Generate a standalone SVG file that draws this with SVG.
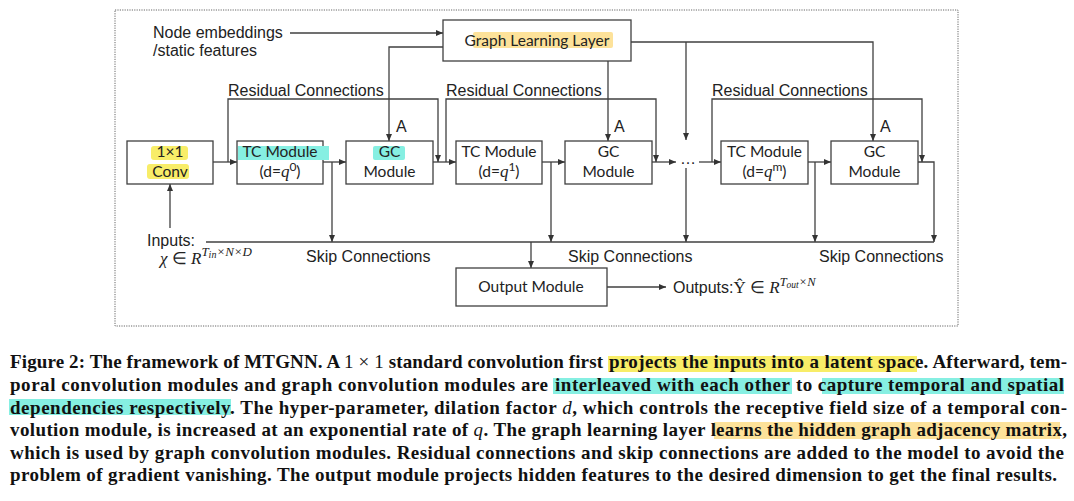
<svg xmlns="http://www.w3.org/2000/svg" width="1074" height="501" viewBox="0 0 1074 501">
<defs>
<style>
.box{fill:#fff;stroke:#404040;stroke-width:1.3}
.ln{fill:none;stroke:#404040;stroke-width:1.3}
.arr{marker-end:url(#ah)}
.lbl{font-family:"Liberation Sans",Arial,sans-serif;font-size:16px;fill:#222}
.bt{font-family:Lato,"Liberation Sans",sans-serif;font-size:15.5px;fill:#222;text-anchor:middle}
.mi{font-family:"Liberation Serif",serif;font-style:italic}
.cap{font-family:"Liberation Serif","Times New Roman",serif;font-weight:bold;font-size:19px;fill:#111}
.nb{font-weight:normal}
.hy{fill:#f8ed68}
.hc{fill:#86efe2}
.ho{fill:#fde29a}
</style>
<marker id="ah" markerWidth="8" markerHeight="8" refX="7" refY="3.5" orient="auto" markerUnits="userSpaceOnUse">
<path d="M0,0.5 L7,3.5 L0,6.5 z" fill="#333"/>
</marker>
</defs>
<rect x="0" y="0" width="1074" height="501" fill="#fff"/>
<rect x="115" y="10" width="843" height="316" fill="none" stroke="#666" stroke-width="1" stroke-dasharray="1.2 1.2"/>

<g id="connectors">
<path class="ln arr" d="M290,33 H443"/>
<path class="ln arr" d="M443,47 H389 V141"/>
<path class="ln arr" d="M608,61 V141"/>
<path class="ln arr" d="M631,42 H873 V141"/>
<path class="ln arr" d="M686,42 V140"/>
<path class="ln arr" d="M213,162 H237"/>
<path class="ln arr" d="M323,162 H346"/>
<path class="ln arr" d="M433,162 H456"/>
<path class="ln arr" d="M542,162 H565"/>
<path class="ln arr" d="M652,162 H676"/>
<path class="ln arr" d="M699,162 H721"/>
<path class="ln arr" d="M808,162 H831"/>
<path class="ln arr" d="M918,162 H934 V242"/>
<path class="ln arr" d="M228,162 V99 H438 V162"/>
<path class="ln arr" d="M446,162 V99 H656 V162"/>
<path class="ln arr" d="M712,162 V99 H922 V162"/>
<path class="ln arr" d="M332,162 V242"/>
<path class="ln arr" d="M551,162 V242"/>
<path class="ln arr" d="M686,168 V242"/>
<path class="ln arr" d="M815,162 V242"/>
<path class="ln" d="M206,242 H934"/>
<path class="ln arr" d="M531,242 V268"/>
<path class="ln arr" d="M607,287 H666"/>
<path class="ln arr" d="M170,228 V184"/>
</g>

<g id="labels">
<text class="lbl" x="153" y="38">Node embeddings</text>
<text class="lbl" x="153" y="56">/static features</text>
<text class="lbl" x="228" y="96">Residual Connections</text>
<text class="lbl" x="446" y="96">Residual Connections</text>
<text class="lbl" x="712" y="96">Residual Connections</text>
<text class="lbl" x="396" y="132">A</text>
<text class="lbl" x="614" y="132">A</text>
<text class="lbl" x="880" y="132">A</text>
<text class="lbl" x="680" y="164">…</text>
<text class="lbl" x="147" y="246">Inputs:</text>
<text x="160" y="264" font-size="17" fill="#222" class="mi">χ <tspan font-style="normal">∈</tspan> R<tspan font-size="13" dy="-8">T</tspan><tspan font-size="10" dy="2">in</tspan><tspan font-size="13" dy="-2">×N×D</tspan></text>
<text class="lbl" x="306" y="262">Skip Connections</text>
<text class="lbl" x="568" y="262">Skip Connections</text>
<text class="lbl" x="819" y="262">Skip Connections</text>
<text class="lbl" x="673" y="293">Outputs:<tspan font-family="Liberation Serif" font-size="17">Ŷ ∈ </tspan><tspan class="mi" font-size="17">R</tspan><tspan class="mi" font-size="12.5" dy="-7">T</tspan><tspan class="mi" font-size="9.5" dy="2">out</tspan><tspan class="mi" font-size="12.5" dy="-2">×N</tspan></text>
</g>

<g id="graph-learning-layer">
<rect class="box" x="443" y="20" width="188" height="41"/>
<rect class="ho" x="473" y="32" width="140" height="16" rx="2"/>
<text class="bt" x="537" y="46" font-size="16">Graph Learning Layer</text>
</g>

<g id="conv">
<rect class="box" x="127" y="141" width="86" height="43"/>
<rect class="hy" x="151" y="146" width="37" height="14" rx="3"/>
<rect class="hy" x="147" y="164" width="42" height="15" rx="3"/>
<text class="bt" x="170" y="157">1×1</text>
<text class="bt" x="170" y="177">Conv</text>
</g>

<g id="tc0">
<rect class="box" x="237" y="141" width="86" height="43"/>
<rect class="hc" x="238" y="146" width="91" height="14"/>
<text class="bt" x="280" y="157">TC Module</text>
<text class="bt" x="280" y="177">(d=<tspan class="mi" font-size="17">q</tspan><tspan font-size="12" dy="-6">0</tspan><tspan dy="6">)</tspan></text>
</g>

<g id="gc1">
<rect class="box" x="346" y="141" width="87" height="43"/>
<rect class="hc" x="373" y="146" width="32" height="14" rx="2"/>
<text class="bt" x="389.5" y="157">GC</text>
<text class="bt" x="389.5" y="177">Module</text>
</g>

<g id="tc1">
<rect class="box" x="456" y="141" width="86" height="43"/>
<text class="bt" x="499" y="157">TC Module</text>
<text class="bt" x="499" y="177">(d=<tspan class="mi" font-size="17">q</tspan><tspan font-size="12" dy="-6">1</tspan><tspan dy="6">)</tspan></text>
</g>

<g id="gc2">
<rect class="box" x="565" y="141" width="87" height="43"/>
<text class="bt" x="608.5" y="157">GC</text>
<text class="bt" x="608.5" y="177">Module</text>
</g>

<g id="tcm">
<rect class="box" x="721" y="141" width="87" height="43"/>
<text class="bt" x="764.5" y="157">TC Module</text>
<text class="bt" x="764.5" y="177">(d=<tspan class="mi" font-size="17">q</tspan><tspan font-size="12" dy="-6">m</tspan><tspan dy="6">)</tspan></text>
</g>

<g id="gc3">
<rect class="box" x="831" y="141" width="87" height="43"/>
<text class="bt" x="874.5" y="157">GC</text>
<text class="bt" x="874.5" y="177">Module</text>
</g>

<g id="output-module">
<rect class="box" x="456" y="268" width="151" height="38"/>
<text class="bt" x="531" y="292">Output Module</text>
</g>

<g id="caption">
<rect class="hy" x="608" y="356" width="309" height="16"/>
<rect class="hc" x="553" y="378" width="239" height="16"/>
<rect class="hc" x="822" y="378" width="242" height="16"/>
<rect class="hc" x="9" y="399" width="222" height="16"/>
<rect class="ho" x="714" y="422" width="346" height="17"/>
<text class="cap" x="10" y="368" textLength="593" lengthAdjust="spacing">Figure 2: The framework of MTGNN. A <tspan class="nb">1 × 1</tspan> standard convolution first</text>
<text class="cap" x="609" y="368" textLength="306" lengthAdjust="spacing">projects the inputs into a latent spac</text>
<text class="cap" x="915" y="368" textLength="152" lengthAdjust="spacing">e. Afterward, tem-</text>
<text class="cap" x="10" y="391" textLength="538" lengthAdjust="spacing">poral convolution modules and graph convolution modules are</text>
<text class="cap" x="555" y="391" textLength="235" lengthAdjust="spacing">interleaved with each other</text>
<text class="cap" x="796" y="391" textLength="268" lengthAdjust="spacing">to capture temporal and spatial</text>
<text class="cap" x="10" y="413.5" textLength="1057" lengthAdjust="spacing">dependencies respectively. The hyper-parameter, dilation factor <tspan class="nb" font-style="italic">d</tspan>, which controls the receptive field size of a temporal con-</text>
<text class="cap" x="10" y="436" textLength="706" lengthAdjust="spacing">volution module, is increased at an exponential rate of <tspan class="nb" font-style="italic">q</tspan>. The graph learning layer l</text>
<text class="cap" x="716" y="436" textLength="351" lengthAdjust="spacing">earns the hidden graph adjacency matrix,</text>
<text class="cap" x="10" y="458.5" textLength="1054" lengthAdjust="spacing">which is used by graph convolution modules. Residual connections and skip connections are added to the model to avoid the</text>
<text class="cap" x="10" y="481" textLength="1047" lengthAdjust="spacing">problem of gradient vanishing. The output module projects hidden features to the desired dimension to get the final results.</text>
</g>
</svg>
